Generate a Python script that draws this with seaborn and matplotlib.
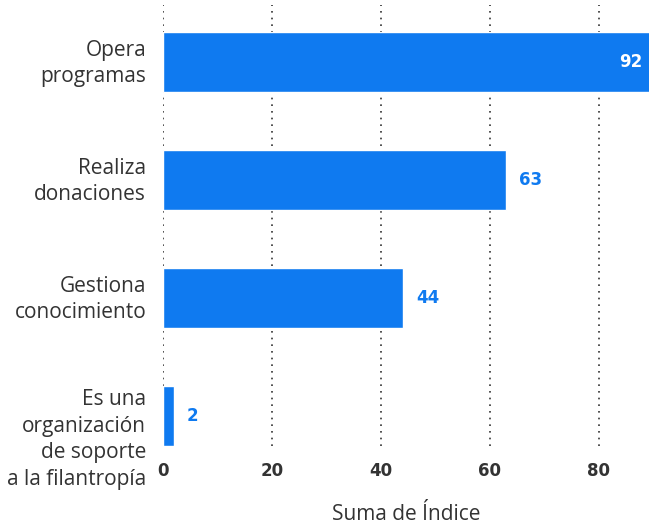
import matplotlib
matplotlib.use("Agg")
import matplotlib.pyplot as plt
import matplotlib.transforms as mtransforms
import seaborn as sns
import pandas as pd

categorias = ["Opera\nprogramas", "Realiza\ndonaciones", "Gestiona\nconocimiento",
              "Es una\norganización\nde soporte\na la filantropía"]
valores = [92, 63, 44, 2]
ticks_x = [0, 20, 40, 60, 80]

azul = "#0F7AF0"
gris = "#333333"

sns.set_style("white")
plt.rcParams['font.family'] = ['Open Sans', 'DejaVu Sans']
num_font = ['DejaVu Sans']

df = pd.DataFrame({"cat": categorias, "val": valores})

fig = plt.figure(figsize=(6.49, 5.25), dpi=100)
ax = fig.add_axes([0.251, 0.150, 0.749, 0.840])

sns.barplot(data=df, y="cat", x="val", color=azul, saturation=1, width=0.51, ax=ax)

ax.set_xlim(0, 89.2)
ax.set_ylim(3.255, -0.483)
ax.set_xticks(ticks_x)
ax.set_xticklabels([str(t) for t in ticks_x], fontsize=12, fontweight="bold",
                   color=gris, family=num_font)
ax.tick_params(axis="y", labelsize=15, colors=gris, length=0, pad=12)
ax.tick_params(axis="x", length=0, pad=11)
ylabels = ax.get_yticklabels()
for k, lbl in enumerate(ylabels):
    lbl.set_horizontalalignment("right")
    lbl.set_linespacing(1.35)
    # la ultima etiqueta queda algo mas abajo en el original
    dy = -0.18 if k == len(ylabels) - 1 else 0.04
    lbl.set_transform(lbl.get_transform() +
                      mtransforms.ScaledTranslation(0, dy, fig.dpi_scale_trans))

ax.xaxis.grid(True, linestyle=(0, (1, 3)), color=gris, linewidth=1.2)
ax.set_axisbelow(True)
for s in ax.spines.values():
    s.set_visible(False)

ax.set_ylabel("")
ax.set_xlabel("Suma de Índice", fontsize=15, color=gris)
ax.xaxis.set_label_coords(0.5, -0.13)

xmax = ax.get_xlim()[1]
for i, v in enumerate(valores):
    if v > xmax:
        ax.text(xmax - 1.2, i, str(v), ha="right", va="center", color="white",
                fontsize=12, fontweight="bold", family=num_font)
    else:
        ax.text(v + 2.4, i, str(v), ha="left", va="center", color=azul,
                fontsize=12, fontweight="bold", family=num_font)

fig.savefig("out.png", dpi=100)
